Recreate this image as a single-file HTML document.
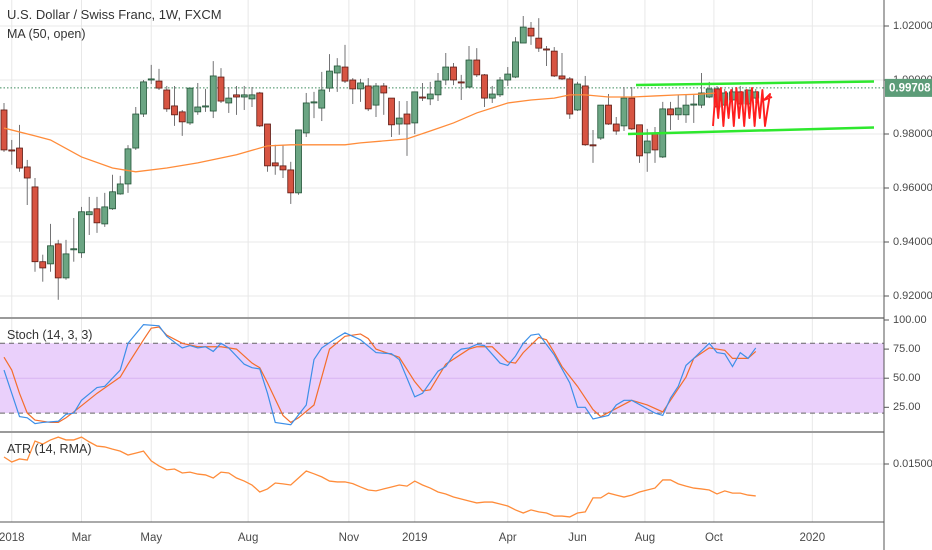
<!DOCTYPE html>
<html><head><meta charset="utf-8"><style>
html,body{margin:0;padding:0;background:#fff;}
svg{display:block;font-family:"Liberation Sans",sans-serif;}
</style></head><body>
<svg id="chart" width="932" height="550" viewBox="0 0 932 550" xmlns="http://www.w3.org/2000/svg"></svg>
<script>
const opens=[.9889,.9741,.9748,.9678,.9604,.9327,.9319,.9393,.9267,.9371,.9360,.9501,.9523,.9467,.9523,.9578,.9615,.9748,.9874,1.0000,.9996,.9963,.9904,.9882,.9841,.9882,.9900,.9885,1.0011,.9915,.9945,.9937,.9930,.9952,.9837,.9693,.9682,.9667,.9582,.9804,.9915,.9896,.9970,1.0026,1.0048,1.0000,.9967,.9978,.9907,.9978,.9933,.9837,.9874,.9841,.9937,.9930,.9945,1.0000,1.0048,.9993,.9974,1.0074,1.0019,.9933,.9945,1.0000,1.0011,1.0137,1.0192,1.0155,1.0115,1.0107,1.0015,1.0004,.9889,.9978,.9760,.9785,.9907,.9837,.9830,.9933,.9834,.9730,.9800,.9715,.9893,.9871,.9871,.9907,.9907,.9937,.9967,.9907,.9926,.9956,.9911,.9933];
const highs=[.9915,.9778,.9834,.9704,.9637,.9353,.9467,.9408,.9408,.9489,.9530,.9567,.9567,.9582,.9649,.9645,.9759,.9900,1.0000,1.0056,1.0041,.9978,.9978,.9889,.9970,.9989,.9967,1.0070,1.0044,.9974,.9978,.9978,.9974,.9956,.9837,.9760,.9760,.9697,.9815,.9952,.9956,1.0030,1.0096,1.0081,1.0130,1.0007,1.0004,1.0007,.9989,.9989,.9933,.9922,.9922,.9956,.9989,.9993,1.0026,1.0100,1.0063,1.0019,1.0126,1.0118,1.0022,.9978,1.0011,1.0048,1.0159,1.0237,1.0215,1.0229,1.0126,1.0122,1.0100,1.0011,.9993,1.0015,.9815,.9907,.9948,.9863,.9974,.9974,.9834,.9819,.9826,.9919,.9919,.9945,.9948,.9945,1.0026,.9993,.9978,.9967,.9970,.9978,.9963,.9967];
const lows=[.9734,.9686,.9660,.9537,.9290,.9253,.9290,.9186,.9260,.9327,.9341,.9426,.9434,.9456,.9519,.9575,.9582,.9741,.9863,.9985,.9963,.9882,.9830,.9793,.9834,.9871,.9882,.9859,.9915,.9878,.9871,.9889,.9900,.9826,.9660,.9649,.9637,.9541,.9575,.9789,.9859,.9848,.9956,.9956,.9989,.9911,.9919,.9885,.9863,.9871,.9789,.9797,.9719,.9800,.9922,.9907,.9922,.9981,.9981,.9926,.9970,1.0011,.9900,.9915,.9937,.9978,1.0007,1.0137,1.0130,1.0104,1.0052,1.0011,1.0000,.9856,.9885,.9756,.9693,.9778,.9834,.9797,.9811,.9815,.9693,.9660,.9693,.9711,.9815,.9852,.9841,.9841,.9896,.9933,.9889,.9896,.9915,.9900,.9900,.9915];
const closes=[.9741,.9737,.9674,.9637,.9327,.9304,.9386,.9267,.9356,.9375,.9512,.9512,.9471,.9530,.9586,.9615,.9745,.9874,.9993,1.0004,.9970,.9893,.9871,.9845,.9970,.9900,.9904,1.0015,.9922,.9933,.9937,.9945,.9945,.9830,.9682,.9682,.9667,.9582,.9815,.9915,.9919,.9963,1.0033,1.0052,.9996,.9967,.9989,.9893,.9978,.9952,.9834,.9859,.9837,.9956,.9933,.9948,.9996,1.0048,1.0000,.9989,1.0074,1.0019,.9933,.9948,1.0000,1.0022,1.0141,1.0196,1.0163,1.0118,1.0111,1.0015,1.0004,.9874,.9985,.9760,.9756,.9907,.9837,.9811,.9933,.9819,.9719,.9774,.9741,.9893,.9871,.9896,.9907,.9911,.9952,.9967,.9900,.9952,.9956,.9911,.9963,.9956];
const maWeeks=[0,4,6,10,14,17,21,25,30,34,37,44,46,52,55,58,61,65,68,71,73,75,78,81,84,87,90,92];
const maValues=[.9822,.9793,.9778,.9715,.9674,.9660,.9674,.9693,.9723,.9756,.9760,.9760,.9767,.9782,.9811,.9841,.9878,.9915,.9926,.9933,.9945,.9945,.9937,.9937,.9941,.9945,.9948,.9952];
const kWeeks=[0,2,3,4,5,7,8,9,10,12,13,15,16,18,20,21,23,24,25,26,27,28,29,31,32,33,34,35,37,39,40,41,43,44,46,48,50,51,53,54,56,57,58,59,60,61,62,64,65,66,67,68,69,71,73,74,75,76,78,79,80,81,84,85,86,87,88,89,91,92,93,94,95,96,97];
const kValues=[57,17,16,11,12,13,19,20,31,42,43,57,80,96,95,86,76,78,76,77,73,80,76,62,59,58,37,12,10,27,66,76,85,89,83,72,71,66,34,37,56,60,70,75,76,79,78,63,61,69,80,87,88,70,46,25,25,15,18,27,31,31,20,18,33,43,61,67,80,72,71,60,72,67,76];
const dWeeks=[0,1,2,3,4,6,7,8,9,12,15,16,18,19,20,21,23,25,28,30,32,33,34,36,37,38,40,41,42,44,46,47,48,51,53,54,55,57,60,61,63,65,66,67,69,70,71,72,74,76,77,79,81,83,85,86,88,89,91,93,94,96,97];
const dValues=[68,57,37,20,14,12,12,16,21,37,51,62,83,93,94,87,80,77,77,75,63,59,46,18,12,16,27,51,75,86,88,84,75,68,47,39,40,62,75,77,77,64,63,72,85,83,72,60,43,23,17,24,31,27,21,31,51,67,76,74,67,67,73];
const atrValues=[.01525,.01507,.01518,.01514,.01582,.01571,.01586,.01596,.01586,.01586,.01596,.01579,.01564,.01561,.01553,.01546,.01532,.01539,.01546,.01511,.01493,.01479,.01482,.01468,.01471,.01464,.01461,.0145,.01471,.01468,.0145,.01439,.01425,.0140,.01411,.01432,.01429,.01425,.0145,.01475,.01465,.01454,.01439,.01436,.01436,.0143,.01418,.01407,.01404,.01411,.01418,.01425,.01421,.01439,.01425,.01414,.014,.01393,.01382,.01375,.01368,.01361,.01364,.01364,.01357,.0135,.01336,.01325,.01336,.01329,.01325,.01314,.01314,.01311,.01325,.01329,.01379,.01379,.01396,.01389,.01382,.01389,.014,.01407,.01414,.01443,.01443,.01429,.01421,.01414,.01411,.01407,.01393,.01404,.01396,.01396,.01389,.01386];
const priceTicks=[1.02,1.00,0.98,0.96,0.94,0.92];
const priceTickLabels=["1.02000","1.00000","0.98000","0.96000","0.94000","0.92000"];
const stochTicks=[100,75,50,25];
const stochTickLabels=["100.00","75.00","50.00","25.00"];
const atrTicks=[0.015];
const atrTickLabels=["0.01500"];
const dateLabels=["2018","Mar","May","Aug","Nov","2019","Apr","Jun","Aug","Oct","2020"];
const dateWeeks=[1,10,19,31.5,44.5,53,65,74,82.7,91.6,104.3];
const lastPrice=0.99708;

const NS="http://www.w3.org/2000/svg";
const svg=document.getElementById('chart');
const xOf=w=>4+w*7.75;
const yP=p=>134-(p-0.98)*2700;
const yS=v=>436.4-v*1.164;
const yA=v=>464-(v-0.015)*28000;
function mk(tag,attrs,parent){const e=document.createElementNS(NS,tag);for(const k in attrs)e.setAttribute(k,attrs[k]);(parent||svg).appendChild(e);return e;}

dateWeeks.forEach((w,i)=>{
  const x=xOf(w);
  const g=mk('line',{x1:x,x2:x,y1:0,y2:522,stroke:'#e8e8e8','stroke-width':1});
  
  
  const t=mk('text',{x:x,y:538,'text-anchor':'middle','font-size':11.5,fill:'#4a4a4a','dominant-baseline':'middle'});
  t.textContent=dateLabels[i];
  
  
});
priceTicks.forEach((p,i)=>{
  const y=yP(p);
  const g=mk('line',{x1:0,x2:884,y1:y,y2:y,stroke:'#e8e8e8'});
  
  
  mk('line',{x1:884,x2:889,y1:y,y2:y,stroke:'#555'});
  const t=mk('text',{x:893,y:y,'font-size':11,fill:'#4a4a4a','dominant-baseline':'middle'});
  t.textContent=priceTickLabels[i];
  
  
});
const cp=mk('line',{x1:0,x2:884,y1:yP(lastPrice),y2:yP(lastPrice),stroke:'#3d8c5e','stroke-dasharray':'1.5,2','stroke-width':1});



const cg=mk('g',{});


opens.forEach((o,i)=>{
  const c=closes[i],x=xOf(i),up=c>=o;
  const w=mk('line',{x1:x,x2:x,y1:yP(highs[i]),y2:yP(lows[i]),stroke:'#737375','stroke-width':1},cg);
  
  
  const top=yP(Math.max(o,c)),bot=yP(Math.min(o,c));
  const r=mk('rect',{x:x-3,y:top,width:6,height:Math.max(1,bot-top),fill:up?'#6ba583':'#d75442',stroke:up?'#225437':'#5b1a13','stroke-width':0.8},cg);
  
  
});
const ma=mk('polyline',{points:maWeeks.map((w,i)=>xOf(w)+','+yP(maValues[i])).join(' '),fill:'none',stroke:'#ff8c3a','stroke-width':1.3});



const gl1=mk('line',{x1:636,y1:85,x2:874,y2:81.5,stroke:'#2ee82e','stroke-width':2.5});


const gl2=mk('line',{x1:628,y1:134,x2:874,y2:127.5,stroke:'#2ee82e','stroke-width':2.5});


let pts=[];let xx=713;let k=0;
while(xx<766){pts.push(xx+','+(k%2?88+(k%3)*2:126-(k%4)*4));xx+=2.6;k++;}
pts.push('770,94');pts.push('764,100');pts.push('772,97');
const sc=mk('polyline',{points:pts.join(' '),fill:'none',stroke:'#ff1e1e','stroke-width':1.9,'stroke-linejoin':'round'});



const band=mk('rect',{x:0,y:yS(80),width:884,height:yS(20)-yS(80),fill:'#ead0fb'});


mk('line',{x1:0,x2:884,y1:yS(50),y2:yS(50),stroke:'#d8b4f2'});
[80,20].forEach(v=>{const l=mk('line',{x1:0,x2:884,y1:yS(v),y2:yS(v),stroke:'#666','stroke-dasharray':'5,4'});
  
  });
stochTicks.forEach((v,i)=>{
  const y=yS(v);
  mk('line',{x1:884,x2:889,y1:y,y2:y,stroke:'#555'});
  const t=mk('text',{x:893,y:y,'font-size':11,fill:'#4a4a4a','dominant-baseline':'middle'});
  t.textContent=stochTickLabels[i];
  
  
});
const dl=mk('polyline',{points:dWeeks.map((w,i)=>xOf(w)+','+yS(dValues[i])).join(' '),fill:'none',stroke:'#f46d2b','stroke-width':1.2});


const kl=mk('polyline',{points:kWeeks.map((w,i)=>xOf(w)+','+yS(kValues[i])).join(' '),fill:'none',stroke:'#3d8fe8','stroke-width':1.2});



atrTicks.forEach((v,i)=>{
  const y=yA(v);
  mk('line',{x1:0,x2:884,y1:y,y2:y,stroke:'#e8e8e8'});
  mk('line',{x1:884,x2:889,y1:y,y2:y,stroke:'#555'});
  const t=mk('text',{x:893,y:y,'font-size':11,fill:'#4a4a4a','dominant-baseline':'middle'});
  t.textContent=atrTickLabels[i];
  
  
});
const al=mk('polyline',{points:atrValues.map((v,i)=>xOf(i)+','+yA(v)).join(' '),fill:'none',stroke:'#ff8c3a','stroke-width':1.3});



[318,432].forEach(y=>{const s=mk('line',{x1:0,x2:884,y1:y,y2:y,stroke:'#9a9a9a','stroke-width':2});
  
  });
mk('line',{x1:0,x2:884,y1:522,y2:522,stroke:'#555'});
mk('line',{x1:884,x2:884,y1:0,y2:550,stroke:'#555'});

const pb=mk('rect',{x:885,y:yP(lastPrice)-9,width:47,height:18,fill:'#5c9c78'});


const pt=mk('text',{x:889,y:yP(lastPrice)+0.5,'font-size':11.5,fill:'#fff','dominant-baseline':'middle','font-weight':'bold'});
pt.textContent='0.99708';

function label(txt,x,y,name,size,weight){const t=mk('text',{x:x,y:y,'font-size':size||12,fill:'#333','font-weight':weight||'normal'});t.textContent=txt;
  }
label('U.S. Dollar / Swiss Franc, 1W, FXCM',7,19,'chart-title',13);
label('MA (50, open)',7,38,'ma-legend',12.5);
label('Stoch (14, 3, 3)',7,339,'stoch-legend',12.5);
label('ATR (14, RMA)',7,453,'atr-legend',12.5);
</script>
</body></html>
